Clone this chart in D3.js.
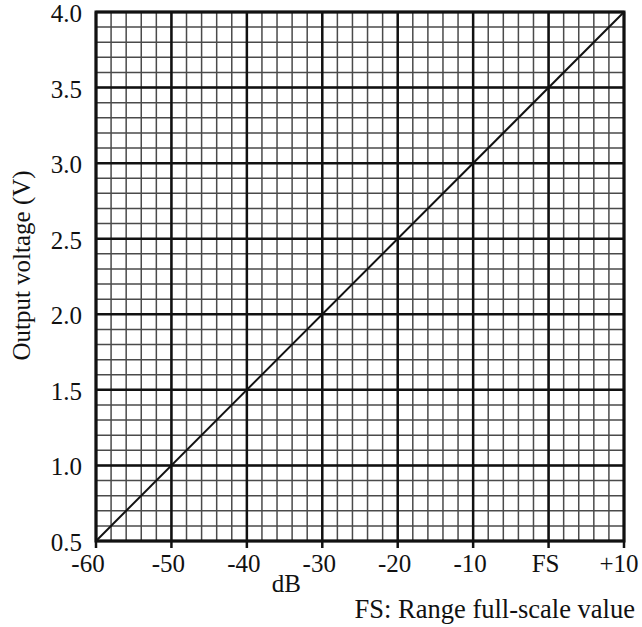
<!DOCTYPE html>
<html>
<head>
<meta charset="utf-8">
<script src="https://cdn.jsdelivr.net/npm/d3@7"></script>
<style>
  body { margin: 0; background: #fff; }
  text { font-family: "Liberation Serif", "Times New Roman", serif; fill: #111; }
</style>
</head>
<body>
<div id="chart"></div>
<script>
// data
var dbValues = [-60, 10];
var voltValues = [0.5, 4.0];
var xTicks = [-60, -50, -40, -30, -20, -10, 0, 10];
var xTickLabels = ["-60", "-50", "-40", "-30", "-20", "-10", "FS", "+10"];
var yTicks = [0.5, 1.0, 1.5, 2.0, 2.5, 3.0, 3.5, 4.0];

var margin = {top: 12, right: 18, bottom: 86, left: 96},
    outerWidth = 642,
    outerHeight = 627,
    width = outerWidth - margin.left - margin.right,
    height = outerHeight - margin.top - margin.bottom;

var svg = d3.select("#chart").append("svg")
    .attr("width", outerWidth)
    .attr("height", outerHeight)
    .append("g")
    .attr("transform", "translate(" + margin.left + "," + margin.top + ")");

var x = d3.scaleLinear().domain([-60, 10]).range([0, width]);
var y = d3.scaleLinear().domain([0.5, 4.0]).range([height, 0]);

// minor grid: every 2 dB and every 0.1 V
var minorX = d3.range(-60, 10.001, 2);
var minorY = d3.range(5, 40.001, 1).map(function(d) { return d / 10; });

svg.append("g").selectAll("line")
    .data(minorX)
    .enter().append("line")
    .attr("x1", function(d) { return x(d); })
    .attr("x2", function(d) { return x(d); })
    .attr("y1", 0).attr("y2", height)
    .attr("stroke", "#4a4a4a").attr("stroke-width", 1.5);

svg.append("g").selectAll("line")
    .data(minorY)
    .enter().append("line")
    .attr("y1", function(d) { return y(d); })
    .attr("y2", function(d) { return y(d); })
    .attr("x1", 0).attr("x2", width)
    .attr("stroke", "#4a4a4a").attr("stroke-width", 1.5);

// major grid
svg.append("g").selectAll("line")
    .data(xTicks)
    .enter().append("line")
    .attr("x1", function(d) { return x(d); })
    .attr("x2", function(d) { return x(d); })
    .attr("y1", 0).attr("y2", height + 7)
    .attr("stroke", "#111").attr("stroke-width", 2.5);

svg.append("g").selectAll("line")
    .data(yTicks)
    .enter().append("line")
    .attr("y1", function(d) { return y(d); })
    .attr("y2", function(d) { return y(d); })
    .attr("x1", 0).attr("x2", width)
    .attr("stroke", "#111").attr("stroke-width", 2.5);

svg.append("rect")
    .attr("width", width).attr("height", height)
    .attr("fill", "none").attr("stroke", "#111").attr("stroke-width", 3);

// line
var line = d3.line()
    .x(function(d, i) { return x(dbValues[i]); })
    .y(function(d, i) { return y(voltValues[i]); });

svg.append("path")
    .datum(dbValues)
    .attr("d", line)
    .attr("fill", "none").attr("stroke", "#111").attr("stroke-width", 2);

// tick labels (nudged a little left, the last one kept inside the page)
svg.append("g").selectAll("text")
    .data(xTicks)
    .enter().append("text")
    .attr("x", function(d) { return x(d); })
    .attr("dx", function(d, i) { return i === 0 ? -8 : (i === xTicks.length - 1 ? -5 : -3); })
    .attr("y", height + 31)
    .attr("text-anchor", "middle")
    .attr("font-size", 25)
    .text(function(d, i) { return xTickLabels[i]; });

svg.append("g").selectAll("text")
    .data(yTicks)
    .enter().append("text")
    .attr("x", -14)
    .attr("y", function(d) { return y(d) + 10; })
    .attr("text-anchor", "end")
    .attr("font-size", 25)
    .text(function(d) { return d.toFixed(1); });

// axis titles
svg.append("text")
    .attr("x", x(-30) - 36)
    .attr("y", height + 51)
    .attr("text-anchor", "middle")
    .attr("font-size", 25)
    .text("dB");

svg.append("text")
    .attr("transform", "translate(" + (-66) + "," + (height / 2 - 11) + ") rotate(-90)")
    .attr("text-anchor", "middle")
    .attr("font-size", 25)
    .text("Output voltage (V)");

svg.append("text")
    .attr("x", width + 11)
    .attr("y", height + 77)
    .attr("text-anchor", "end")
    .attr("font-size", 26.5)
    .text("FS: Range full-scale value");
</script>
</body>
</html>
